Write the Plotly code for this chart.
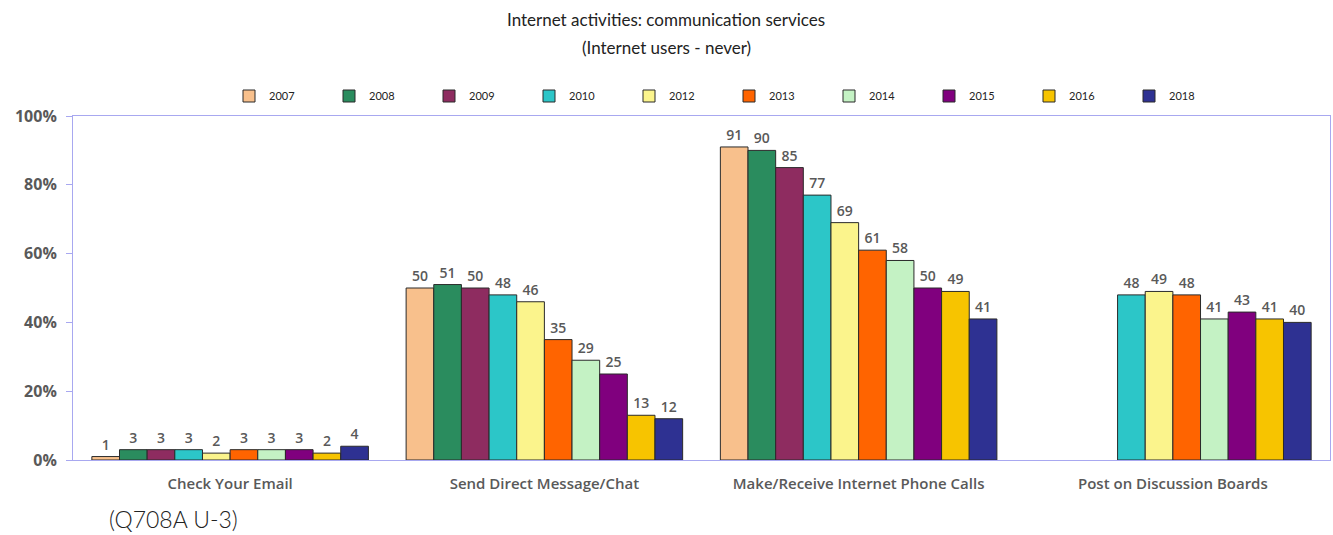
import plotly.graph_objects as go

categories = ["Check Your Email", "Send Direct Message/Chat",
              "Make/Receive Internet Phone Calls", "Post on Discussion Boards"]

years = ["2007", "2008", "2009", "2010", "2012", "2013", "2014", "2015", "2016", "2018"]

v2007 = [1, 50, 91, None]
v2008 = [3, 51, 90, None]
v2009 = [3, 50, 85, None]
v2010 = [3, 48, 77, 48]
v2012 = [2, 46, 69, 49]
v2013 = [3, 35, 61, 48]
v2014 = [3, 29, 58, 41]
v2015 = [3, 25, 50, 43]
v2016 = [2, 13, 49, 41]
v2018 = [4, 12, 41, 40]

series = [v2007, v2008, v2009, v2010, v2012, v2013, v2014, v2015, v2016, v2018]

colors = ["#F8C08C", "#2A8C5E", "#8E2C60", "#2CC6C8", "#FBF48C",
          "#FF6400", "#C4F2C4", "#80007E", "#F7C400", "#2E3192"]

axis_color = "#A8A8F0"
text_gray = "#595959"

# plot area in pixels: left 73, right 1330, top 116, bottom 460
PLOT_TOP, PLOT_BOTTOM, PLOT_LEFT, PLOT_W = 116, 460, 73, 1257
PLOT_H = PLOT_BOTTOM - PLOT_TOP


def py(pixel_y):
    return (PLOT_BOTTOM - pixel_y) / PLOT_H


def px(pixel_x):
    return (pixel_x - PLOT_LEFT) / PLOT_W


fig = go.Figure()
for year, vals, col in zip(years, series, colors):
    fig.add_trace(go.Bar(
        name=year,
        x=categories,
        y=vals,
        marker=dict(color=col, line=dict(color="#2a2a2a", width=1)),
        text=[("" if v is None else str(v)) for v in vals],
        textposition="outside",
        textfont=dict(family="Open Sans", size=14, color=text_gray, weight=600),
        cliponaxis=False,
    ))

fig.update_layout(
    width=1333, height=535,
    margin=dict(l=73, r=3, t=116, b=75),
    paper_bgcolor="white", plot_bgcolor="white",
    barmode="group", bargap=0.12, bargroupgap=0,
    legend=dict(
        orientation="h", x=px(229), xanchor="left", y=py(96), yanchor="middle",
        font=dict(family="Lato", size=11, color="#222222"),
        itemwidth=30, entrywidth=55, traceorder="normal",
    ),
    showlegend=True,
)

fig.update_xaxes(
    showline=True, linecolor=axis_color, linewidth=1, mirror=True,
    tickfont=dict(family="Open Sans", size=15, color=text_gray, weight=600),
    ticks="", showgrid=False, ticklabelstandoff=10,
)
fig.update_yaxes(
    range=[0, 100], dtick=20, ticksuffix="%",
    showline=True, linecolor=axis_color, linewidth=1, mirror=True,
    ticks="outside", ticklen=6, tickcolor=axis_color,
    tickfont=dict(family="Open Sans", size=16, color=text_gray, weight="bold"),
    showgrid=False, zeroline=False, ticklabelstandoff=6,
)

title_font = dict(family="Lato", size=17, color="#222222", weight=400)
fig.add_annotation(text="Internet activities: communication services",
                   xref="paper", yref="paper", x=px(666), y=py(20),
                   xanchor="center", yanchor="middle", showarrow=False, font=title_font)
fig.add_annotation(text="(Internet users - never)",
                   xref="paper", yref="paper", x=px(666), y=py(47),
                   xanchor="center", yanchor="middle", showarrow=False, font=title_font)

fig.add_annotation(
    text="(Q708A U-3)", xref="paper", yref="paper",
    x=px(107), y=py(519), xanchor="left", yanchor="middle",
    showarrow=False, font=dict(family="Lato", size=23, color="#222222", weight=300),
)

fig.write_html("out.html")
